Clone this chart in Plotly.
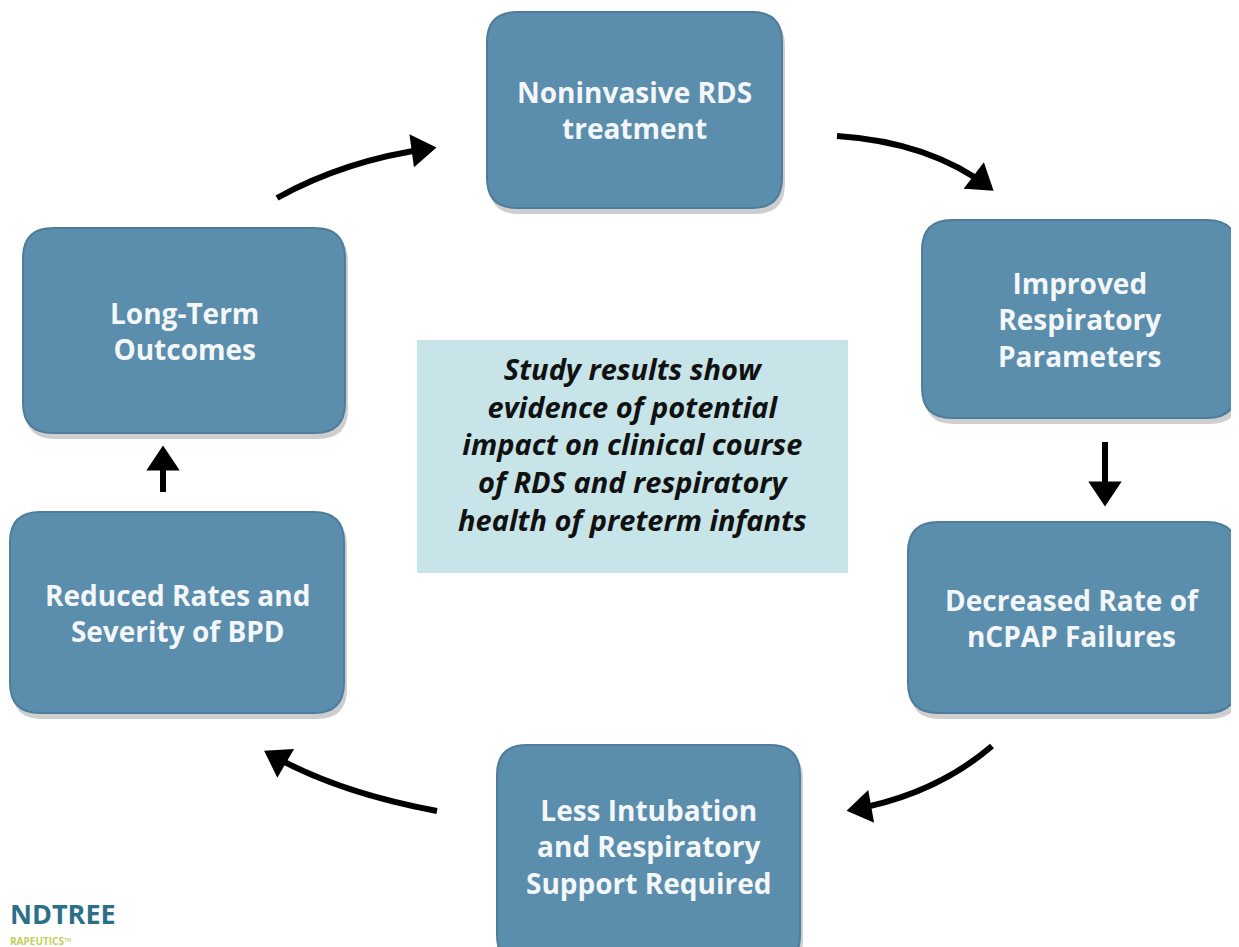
"""
Cycle diagram: clinical course of RDS
"""
import math
import plotly.graph_objects as go

W, H = 1239, 947
PAD = 8  # body margin of the html page

# box labels, clockwise from top
box_labels = [
    "Noninvasive RDS<br>treatment",
    "Improved<br>Respiratory<br>Parameters",
    "Decreased Rate of<br>nCPAP Failures",
    "Less Intubation<br>and Respiratory<br>Support Required",
    "Reduced Rates and<br>Severity of BPD",
    "Long-Term<br>Outcomes",
]
box_x0 = [487, 922, 908, 497, 10, 23]
box_x1 = [782, 1237, 1237, 800, 344, 345]
box_y0 = [12, 220, 522, 745, 512, 228]
box_y1 = [208, 418, 713, 965, 713, 433]

center_text = ("Study results show<br>evidence of potential<br>impact on clinical course"
               "<br>of RDS and respiratory<br>health of preterm infants")

# arrows: start, control, tip
arrow_start = [(277, 198), (837, 136), (1105, 442), (992, 746), (437, 811), (163, 492)]
arrow_ctrl = [(345, 160), (930, 142), (1105, 470), (935, 795), (335, 792), (163, 470)]
arrow_tip = [(432, 148), (990, 188), (1105, 502), (851, 810), (268, 753), (163, 450)]

BOX_FILL = "#5b8dac"
BOX_LINE = "#4d7d9b"


def rrect(x0, y0, x1, y1, r):
    return (f"M {x0+r},{y0} L {x1-r},{y0} Q {x1},{y0} {x1},{y0+r} "
            f"L {x1},{y1-r} Q {x1},{y1} {x1-r},{y1} L {x0+r},{y1} "
            f"Q {x0},{y1} {x0},{y1-r} L {x0},{y0+r} Q {x0},{y0} {x0+r},{y0} Z")


fig = go.Figure()
shapes = []
annotations = []

for lab, x0, x1, y0, y1 in zip(box_labels, box_x0, box_x1, box_y0, box_y1):
    # soft shadow
    shapes.append(dict(type="path", path=rrect(x0 + 2, y0 + 4, x1 + 3, y1 + 6, 30),
                       fillcolor="rgba(60,60,60,0.25)", line=dict(width=0), layer="below"))
    shapes.append(dict(type="path", path=rrect(x0, y0, x1, y1, 30),
                       fillcolor=BOX_FILL, line=dict(color=BOX_LINE, width=2), layer="below"))
    cy = (y0 + min(y1, 947)) / 2
    annotations.append(dict(x=(x0 + x1) / 2, y=cy, text=lab, showarrow=False,
                            font=dict(family="Open Sans", size=28, color="#f4f7f9", weight="bold"),
                            align="center"))

# center box
shapes.append(dict(type="rect", x0=417, x1=848, y0=340, y1=573,
                   fillcolor="#c7e4e8", line=dict(width=0), layer="below"))
annotations.append(dict(x=632, y=444, text="<i>" + center_text + "</i>", showarrow=False,
                        font=dict(family="Open Sans", size=29, color="#111111", weight="bold"),
                        align="center"))

# arrows
for (sx, sy), (cx, cy), (tx, ty) in zip(arrow_start, arrow_ctrl, arrow_tip):
    shapes.append(dict(type="path", path=f"M {sx},{sy} Q {cx},{cy} {tx},{ty}",
                       line=dict(color="black", width=6)))
    dx, dy = tx - cx, ty - cy
    d = math.hypot(dx, dy)
    ux, uy = dx / d, dy / d
    px, py = -uy, ux
    L, Wd = 18, 12
    ax, ay = tx - ux * L + px * Wd, ty - uy * L + py * Wd
    bx, by = tx - ux * L - px * Wd, ty - uy * L - py * Wd
    shapes.append(dict(type="path", path=f"M {ax},{ay} L {tx},{ty} L {bx},{by} Z",
                       fillcolor="black", line=dict(color="black", width=5)))

# logo fragment
annotations.append(dict(x=PAD, y=913, xanchor="left", text="NDTREE", showarrow=False,
                        font=dict(family="Open Sans", size=27, color="#2b7088", weight="bold")))
annotations.append(dict(x=PAD, y=941, xanchor="left", text="RAPEUTICS\u2122", showarrow=False,
                        font=dict(family="Open Sans", size=10, color="#c2cf5a", weight="bold")))

fig.update_layout(
    width=W, height=H,
    margin=dict(l=0, r=0, t=0, b=0),
    paper_bgcolor="white", plot_bgcolor="white",
    xaxis=dict(range=[PAD, W + PAD], visible=False, fixedrange=True),
    yaxis=dict(range=[H + PAD, PAD], visible=False, fixedrange=True),
    shapes=shapes, annotations=annotations,
    showlegend=False,
)

fig.write_html("out.html")
